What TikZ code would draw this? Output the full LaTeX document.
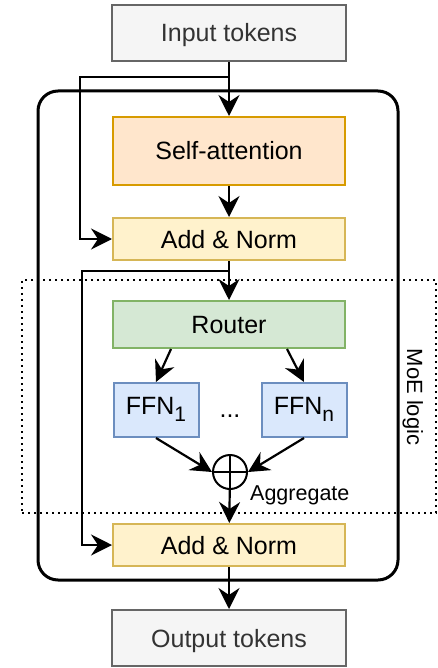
\documentclass[tikz,border=0pt]{standalone}
\usepackage{fontspec}
\setmainfont{Liberation Sans}
\usetikzlibrary{arrows.meta}

\definecolor{ioFill}{HTML}{F5F5F5}
\definecolor{ioLine}{HTML}{666666}
\definecolor{ioText}{HTML}{333333}
\definecolor{attFill}{HTML}{FFE6CC}
\definecolor{attLine}{HTML}{D79B00}
\definecolor{normFill}{HTML}{FFF2CC}
\definecolor{normLine}{HTML}{D6B656}
\definecolor{routeFill}{HTML}{D5E8D4}
\definecolor{routeLine}{HTML}{82B366}
\definecolor{ffnFill}{HTML}{DAE8FC}
\definecolor{ffnLine}{HTML}{6C8EBF}

\newcommand{\ffnsub}[1]{\raisebox{-7pt}{\fontsize{21}{21}\selectfont #1}}

\tikzset{
  labelfont/.style={font=\fontsize{25}{30}\selectfont},
  box/.style={draw, line width=2pt, inner sep=0pt, minimum width=232pt,
              text height=18pt, text depth=0pt, labelfont},
  iobox/.style={box, fill=ioFill, draw=ioLine, text=ioText,
                minimum width=234pt, minimum height=56pt},
  attbox/.style={box, fill=attFill, draw=attLine, minimum height=68pt},
  normbox/.style={box, fill=normFill, draw=normLine, minimum height=42pt},
  routebox/.style={box, fill=routeFill, draw=routeLine, minimum height=47pt},
  ffnbox/.style={box, fill=ffnFill, draw=ffnLine, minimum width=85pt,
                 minimum height=54pt, text depth=10pt},
  arr/.style={line width=2.2pt, -{Stealth[length=21pt,width=21pt,inset=7pt]}},
}

\begin{document}
\begin{tikzpicture}[x=1pt,y=-1pt]
\useasboundingbox (0,0) rectangle (438,668);

% transformer block frame
\node (block) [draw, line width=3pt, rounded corners=20pt, inner sep=0pt,
               minimum width=360pt, minimum height=489pt] at (218,335.5) {};

% MoE region
\node (moe) [draw, line width=1.6pt, dash pattern=on 2pt off 4pt, inner sep=0pt,
             minimum width=414pt, minimum height=233pt] at (229,396.5) {};
\node (moelabel) [rotate=-90, inner sep=0pt, text height=15.8pt, text depth=0pt,
                  font=\fontsize{22}{26}\selectfont] at (415,397) {MoE logic};

% main column
\node (inp)    [iobox]    at (229,33)    {Input tokens};
\node (sa)     [attbox]   at (229,151)   {Self-attention};
\node (an1)    [normbox]  at (229,239)   {Add \& Norm};
\node (router) [routebox] at (229,324.5) {Router};
\node (ffn1)   [ffnbox]   at (156,410)   {FFN\ffnsub{1}};
\node (ffnn)   [ffnbox]   at (304,410)   {FFN\ffnsub{n}};
\node (dots)   [anchor=base, inner sep=0pt, labelfont] at (230,417) {...};
\node (agg)    [circle, draw, line width=2pt, minimum size=34pt, inner sep=0pt,
                path picture={
                  \draw[line width=2pt] (path picture bounding box.north) -- (path picture bounding box.south);
                  \draw[line width=2pt] (path picture bounding box.west) -- (path picture bounding box.east);
                }] at (230,472) {};
\node (agglabel) [anchor=base west, inner sep=0pt, font=\fontsize{21.5}{25}\selectfont]
  at (250,500) {Aggregate};
\node (an2)    [normbox]  at (229,545)   {Add \& Norm};
\node (out)    [iobox]    at (229,638)   {Output tokens};

% residual branch points
\coordinate (b1) at (229,77);
\coordinate (b2) at (229,271);

% connectors
\draw[arr] (inp) -- (sa);
\draw[arr] (b1) -- ++(-149,0) |- (an1.west);
\draw[arr] (sa) -- (an1);
\draw[arr] (an1) -- (router);
\draw[arr] (b2) -- ++(-147,0) |- (an2.west);
\draw[arr] ([xshift=-58pt]router.south) -- (ffn1.north);
\draw[arr] ([xshift=58pt]router.south) -- (ffnn.north);
\draw[arr] (ffn1.south) -- (agg.west);
\draw[arr] (ffnn.south) -- (agg.east);
\draw[arr] (agg) -- (an2);
\draw[arr] (an2) -- (out);
\end{tikzpicture}
\end{document}
